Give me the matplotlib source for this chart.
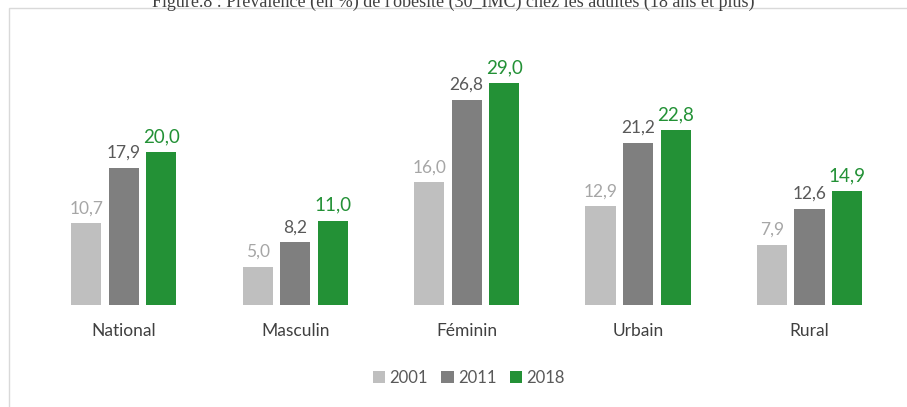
import numpy as np
import matplotlib.pyplot as plt
from matplotlib.patches import Rectangle

# Data
categories = ['National', 'Masculin', 'Féminin', 'Urbain', 'Rural']
years = ['2001', '2011', '2018']
v2001 = [10.7, 5.0, 16.0, 12.9, 7.9]
v2011 = [17.9, 8.2, 26.8, 21.2, 12.6]
v2018 = [20.0, 11.0, 29.0, 22.8, 14.9]

bar_colors = ['#bfbfbf', '#7f7f7f', '#239136']
label_colors = ['#a6a6a6', '#595959', '#239136']
label_sizes = [12.5, 12.5, 13.5]

plt.rcParams['font.family'] = ['Lato', 'DejaVu Sans']

fig = plt.figure(figsize=(9.07, 4.07), dpi=100)
ax = fig.add_axes([0.042, 0.2506, 0.945, 0.602])

x = np.arange(len(categories))
w = 0.176
step = 0.219
for i, (vals, yr) in enumerate(zip([v2001, v2011, v2018], years)):
    pos = x + (i - 1) * step
    bars = ax.bar(pos, vals, w, color=bar_colors[i], label=yr)
    for b, v in zip(bars, vals):
        ax.annotate(f'{v:.1f}'.replace('.', ','), (b.get_x() + b.get_width() / 2, v),
                    xytext=(0, 5), textcoords='offset points', ha='center', va='bottom',
                    color=label_colors[i], fontsize=label_sizes[i])

ax.set_xlim(-0.5, len(categories) - 0.5)
ax.set_ylim(0, 32)
ax.set_xticks(x)
ax.set_xticklabels(categories, fontsize=12.5, color='#404040')
ax.tick_params(axis='x', length=0, pad=13)
ax.set_yticks([])
for s in ax.spines.values():
    s.set_visible(False)

ax.legend(loc='center', bbox_to_anchor=(469 / 907, 1 - 378 / 407), bbox_transform=fig.transFigure,
          ncol=3, frameon=False, fontsize=12, handlelength=0.75, handleheight=0.75,
          handletextpad=0.25, columnspacing=0.8, labelcolor='#595959')

# chart border and clipped title
fig.patches.append(Rectangle((9 / 907, -0.05), 1.1, 1 - 8 / 407 + 0.05, transform=fig.transFigure,
                             fill=False, edgecolor='#d9d9d9', lw=1))
fig.text(0.5, 1 - 2 / 407, "Figure.8 : Prévalence (en %) de l'obésité (30_IMC) chez les adultes (18 ans et plus)",
         ha='center', va='center', fontsize=13, family='Liberation Serif', color='#404040')

fig.savefig('out.png', dpi=100)
